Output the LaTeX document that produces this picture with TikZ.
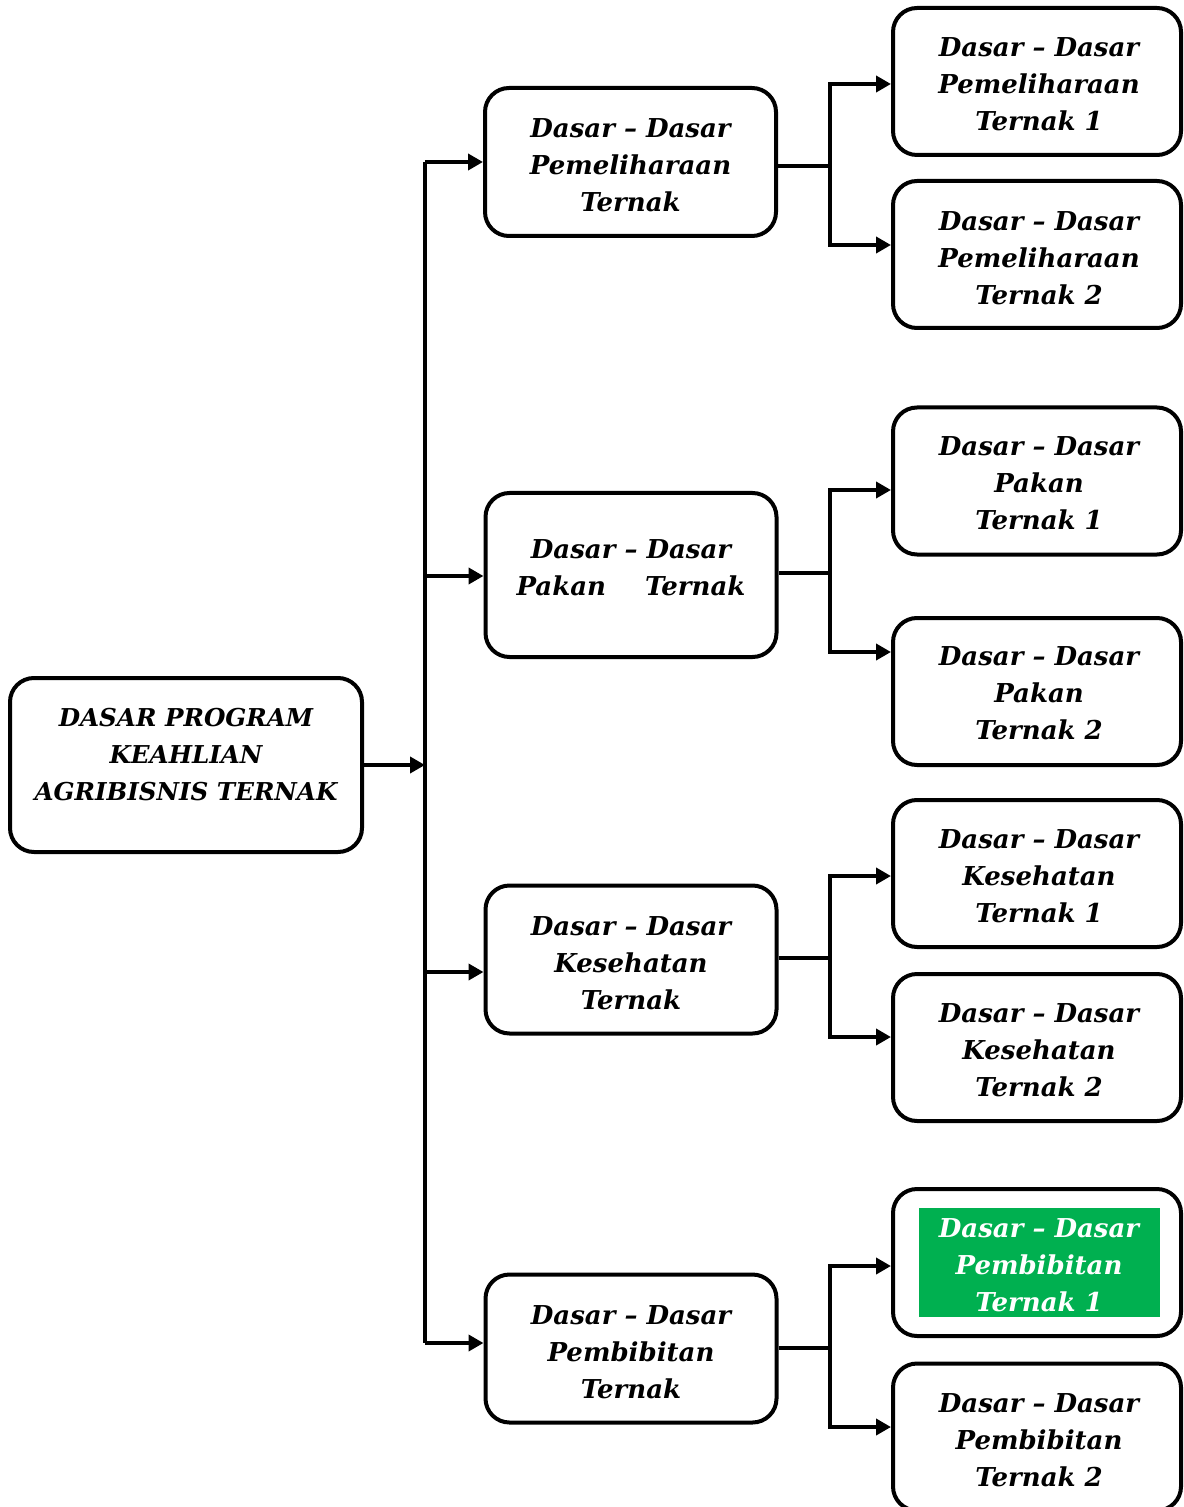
\documentclass[tikz,border=0pt]{standalone}
\usepackage{fontspec}
\setmainfont{DejaVu Serif}
\usetikzlibrary{arrows.meta}
\begin{document}
\begin{tikzpicture}[x=0.5pt,y=-0.5pt,
  box/.style={draw, line width=2pt, rounded corners=12pt, align=center, inner sep=0pt,
    font=\bfseries\itshape\fontsize{13}{18.5}\selectfont},
  rootbox/.style={box, minimum width=176pt, minimum height=87pt},
  midbox/.style={box, minimum width=145.5pt, minimum height=74pt},
  rbox/.style={box, minimum width=144pt, minimum height=73.5pt},
  txt/.style={align=center, inner sep=0pt, font=\bfseries\itshape\fontsize{13}{18.5}\selectfont},
  conn/.style={line width=2.2pt},
  arr/.style={line width=2.2pt, -{Triangle[length=7.5pt,width=8pt]}}]
\useasboundingbox (0,0) rectangle (1183,1507);

% root
\node[rootbox] (root) at (186,765) {};
\node[txt, font=\bfseries\itshape\fontsize{12.3}{18.5}\selectfont] (roott) at (186,755) {DASAR PROGRAM\\KEAHLIAN\\AGRIBISNIS TERNAK};

% middle boxes
\node[midbox] (m1) at (630.5,162) {};
\node[txt] (m1t) at (630.5,165) {Dasar -- Dasar\\Pemeliharaan\\Ternak};
\node[midbox, minimum height=82pt] (m2) at (631,575) {};
\node[txt] (m2t) at (631,568) {Dasar -- Dasar\\Pakan\hspace{1.5em}Ternak};
\node[midbox] (m3) at (631,959.5) {};
\node[txt] (m3t) at (631,963) {Dasar -- Dasar\\Kesehatan\\Ternak};
\node[midbox] (m4) at (631,1348.5) {};
\node[txt] (m4t) at (631,1352) {Dasar -- Dasar\\Pembibitan\\Ternak};

% right boxes
\node[rbox] (r1) at (1037,81.5) {};
\node[txt] (r1t) at (1039,84) {Dasar -- Dasar\\Pemeliharaan\\Ternak 1};
\node[rbox] (r2) at (1037,254.5) {};
\node[txt] (r2t) at (1039,258) {Dasar -- Dasar\\Pemeliharaan\\Ternak 2};
\node[rbox] (r3) at (1037,481) {};
\node[txt] (r3t) at (1039,483) {Dasar -- Dasar\\Pakan\\Ternak 1};
\node[rbox] (r4) at (1037,691.5) {};
\node[txt] (r4t) at (1039,693) {Dasar -- Dasar\\Pakan\\Ternak 2};
\node[rbox] (r5) at (1037,873.5) {};
\node[txt] (r5t) at (1039,876) {Dasar -- Dasar\\Kesehatan\\Ternak 1};
\node[rbox] (r6) at (1037,1047.5) {};
\node[txt] (r6t) at (1039,1050) {Dasar -- Dasar\\Kesehatan\\Ternak 2};
\node[rbox] (r7) at (1037,1262.5) {};
\node[fill={rgb,255:red,0;green,176;blue,80}, minimum width=120.5pt, minimum height=54.5pt, inner sep=0pt] (g7) at (1039.5,1262.5) {};
\node[txt, text=white] (r7t) at (1039,1265) {Dasar -- Dasar\\Pembibitan\\Ternak 1};
\node[rbox] (r8) at (1037,1437) {};
\node[txt] (r8t) at (1039,1440) {Dasar -- Dasar\\Pembibitan\\Ternak 2};

% trunk
\coordinate (tr) at (425,765);
\coordinate (ttop) at (425,162);
\coordinate (tbot) at (425,1343);
\coordinate (t2) at (425,576);
\coordinate (t3) at (425,972);
\draw[arr] (root.east |- tr) -- (tr);
\draw[conn] (ttop) -- (tbot);
\draw[arr] (ttop) -- (m1.west |- ttop);
\draw[arr] (t2) -- (m2.west |- t2);
\draw[arr] (t3) -- (m3.west |- t3);
\draw[arr] (tbot) -- (m4.west |- tbot);

% branches
\coordinate (b1) at (830,166);
\coordinate (b1a) at (830,84);
\coordinate (b1b) at (830,245);
\draw[conn] (m1.east |- b1) -- (b1);
\draw[arr] (b1) -- (b1a) -- (r1.west |- b1a);
\draw[arr] (b1) -- (b1b) -- (r2.west |- b1b);

\coordinate (b2) at (830,573);
\coordinate (b2a) at (830,490);
\coordinate (b2b) at (830,652);
\draw[conn] (m2.east |- b2) -- (b2);
\draw[arr] (b2) -- (b2a) -- (r3.west |- b2a);
\draw[arr] (b2) -- (b2b) -- (r4.west |- b2b);

\coordinate (b3) at (830,958);
\coordinate (b3a) at (830,876);
\coordinate (b3b) at (830,1037);
\draw[conn] (m3.east |- b3) -- (b3);
\draw[arr] (b3) -- (b3a) -- (r5.west |- b3a);
\draw[arr] (b3) -- (b3b) -- (r6.west |- b3b);

\coordinate (b4) at (830,1348);
\coordinate (b4a) at (830,1266);
\coordinate (b4b) at (830,1427);
\draw[conn] (m4.east |- b4) -- (b4);
\draw[arr] (b4) -- (b4a) -- (r7.west |- b4a);
\draw[arr] (b4) -- (b4b) -- (r8.west |- b4b);
\end{tikzpicture}
\end{document}
